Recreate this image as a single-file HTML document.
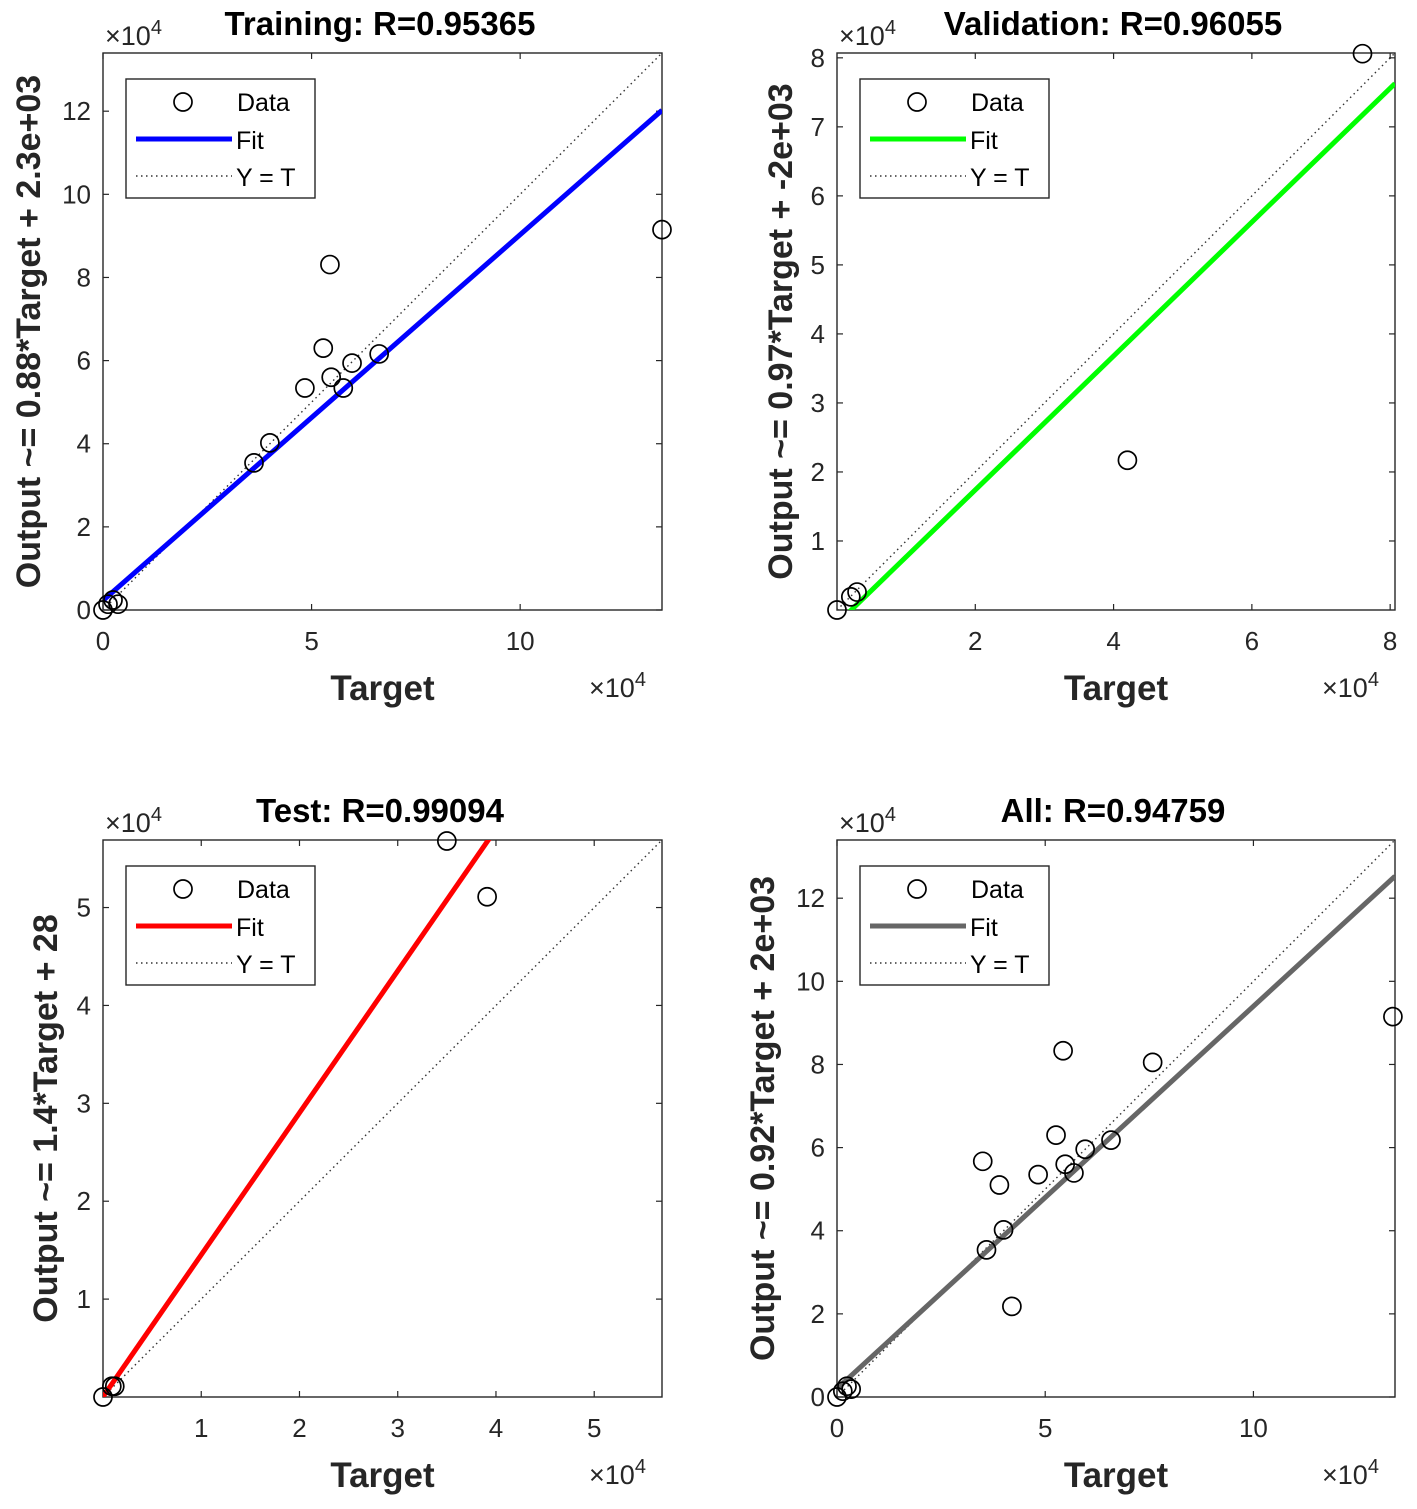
<!DOCTYPE html>
<html><head><meta charset="utf-8"><style>
html,body{margin:0;padding:0;background:#fff;}
svg{display:block;font-family:"Liberation Sans",Arial,sans-serif;}
</style></head><body>
<svg id="fig" width="1417" height="1509" viewBox="0 0 1417 1509"></svg>
<script>
// ---- data (units of 1e4) ----
const trainTargets = [0, 0.12, 0.24, 0.36, 3.62, 4.0, 4.84, 5.28, 5.44, 5.47, 5.76, 5.97, 6.62, 13.4];
const trainOutputs = [0, 0.14, 0.24, 0.14, 3.54, 4.02, 5.34, 6.3, 8.31, 5.6, 5.34, 5.94, 6.16, 9.15];
const valTargets = [0, 0.2, 0.29, 4.2, 7.6];
const valOutputs = [0, 0.19, 0.26, 2.17, 8.06];
const testTargets = [0, 0.09, 0.12, 3.5, 3.91];
const testOutputs = [0, 0.11, 0.11, 5.68, 5.11];
const allTargets = [0, 0.14, 0.24, 0.34, 3.59, 4.0, 3.9, 3.5, 4.2, 4.83, 5.26, 5.43, 5.48, 5.69, 5.96, 6.58, 7.58, 13.35];
const allOutputs = [0, 0.14, 0.26, 0.19, 3.54, 4.02, 5.1, 5.67, 2.18, 5.35, 6.3, 8.33, 5.6, 5.39, 5.96, 6.18, 8.05, 9.15];
const fitSlopes = [0.88, 0.97, 1.45, 0.92];
const fitIntercepts = [0.23, -0.2, 0.0028, 0.2];
const titles = ["Training: R=0.95365", "Validation: R=0.96055", "Test: R=0.99094", "All: R=0.94759"];
const yLabels = ["Output ~= 0.88*Target + 2.3e+03", "Output ~= 0.97*Target + -2e+03", "Output ~= 1.4*Target + 28", "Output ~= 0.92*Target + 2e+03"];
const xTicks1 = [0, 5, 10]; const yTicks1 = [0, 2, 4, 6, 8, 10, 12];
const xTicks2 = [2, 4, 6, 8]; const yTicks2 = [1, 2, 3, 4, 5, 6, 7, 8];
const xTicks3 = [1, 2, 3, 4, 5]; const yTicks3 = [1, 2, 3, 4, 5];
const xTicks4 = [0, 5, 10]; const yTicks4 = [0, 2, 4, 6, 8, 10, 12];

const NS = "http://www.w3.org/2000/svg";
const svg = document.getElementById('fig');
function el(tag, attrs, parent, text) {
  const e = document.createElementNS(NS, tag);
  for (const k in attrs) e.setAttribute(k, attrs[k]);
  if (text !== undefined) e.textContent = text;
  (parent || svg).appendChild(e);
  return e;
}

const panels = [
  {x0:103,x1:662,y0:53,y1:610,min:0,max:13.4,T:trainTargets,O:trainOutputs,xt:xTicks1,yt:yTicks1,col:"#0000ff",ylx:28,key:"training"},
  {x0:837,x1:1395,y0:53,y1:610,min:0,max:8.07,T:valTargets,O:valOutputs,xt:xTicks2,yt:yTicks2,col:"#00ff00",ylx:780,key:"validation"},
  {x0:103,x1:662,y0:840,y1:1397,min:0,max:5.69,T:testTargets,O:testOutputs,xt:xTicks3,yt:yTicks3,col:"#ff0000",ylx:45,key:"test"},
  {x0:837,x1:1395,y0:840,y1:1397,min:0,max:13.4,T:allTargets,O:allOutputs,xt:xTicks4,yt:yTicks4,col:"#666666",ylx:762,key:"all"}
];

panels.forEach((p, i) => {
  const g = el('g', {});
  
  
  const sx = v => p.x0 + (v - p.min) / (p.max - p.min) * (p.x1 - p.x0);
  const sy = v => p.y1 - (v - p.min) / (p.max - p.min) * (p.y1 - p.y0);
  const cid = 'clip' + i;
  const cp = el('clipPath', {id: cid}, g);
  el('rect', {x:p.x0, y:p.y0, width:p.x1-p.x0, height:p.y1-p.y0}, cp);
  const box = el('rect', {x:p.x0, y:p.y0, width:p.x1-p.x0, height:p.y1-p.y0, fill:'#fff', stroke:'#262626', 'stroke-width':1.4}, g);
  
  
  p.xt.forEach(t => {
    const x = sx(t);
    el('line', {x1:x, x2:x, y1:p.y1, y2:p.y1-6, stroke:'#262626', 'stroke-width':1.2}, g);
    el('line', {x1:x, x2:x, y1:p.y0, y2:p.y0+6, stroke:'#262626', 'stroke-width':1.2}, g);
    const tl = el('text', {x:x, y:p.y1+40, 'font-size':26, 'text-anchor':'middle', fill:'#262626'}, g, String(t));
    
    
  });
  p.yt.forEach(t => {
    const y = sy(t);
    el('line', {x1:p.x0, x2:p.x0+6, y1:y, y2:y, stroke:'#262626', 'stroke-width':1.2}, g);
    el('line', {x1:p.x1, x2:p.x1-6, y1:y, y2:y, stroke:'#262626', 'stroke-width':1.2}, g);
    const tl = el('text', {x:p.x0-12, y:y+9, 'font-size':26, 'text-anchor':'end', fill:'#262626'}, g, String(t));
    
    
  });
  const cg = el('g', {'clip-path':'url(#' + cid + ')'}, g);
  const yt = el('line', {x1:sx(p.min), y1:sy(p.min), x2:sx(p.max), y2:sy(p.max), stroke:'#333', 'stroke-width':1.4, 'stroke-dasharray':'1.5 3.5'}, cg);
  
  
  const a = fitSlopes[i], b = fitIntercepts[i];
  const fl = el('line', {x1:sx(p.min), y1:sy(a*p.min+b), x2:sx(p.max), y2:sy(a*p.max+b), stroke:p.col, 'stroke-width':5}, cg);
  
  
  p.T.forEach((t, k) => {
    const c = el('circle', {cx:sx(t), cy:sy(p.O[k]), r:9, fill:'none', stroke:'#000', 'stroke-width':1.7}, g);
    
    
  });
  const tt = el('text', {x:(i%2===0)?380:1113, y:p.y0-18, 'font-size':33, 'font-weight':'bold', 'text-anchor':'middle', fill:'#000'}, g, titles[i]);
  
  
  const xl = el('text', {x:(p.x0+p.x1)/2, y:p.y1+90, 'font-size':35, 'font-weight':'bold', 'text-anchor':'middle', fill:'#262626'}, g, 'Target');
  
  
  const yc = (p.y0+p.y1)/2;
  const yl = el('text', {x:p.ylx, y:yc, 'font-size':34, 'font-weight':'bold', 'text-anchor':'middle', fill:'#262626', transform:'rotate(-90 '+(p.ylx)+' '+yc+')', dy:'0.35em'}, g, yLabels[i]);
  
  
  const e1 = el('text', {x:p.x0+2, y:p.y0-8, 'font-size':27, fill:'#262626'}, g);
  
  
  el('tspan', {}, e1, '×10');
  el('tspan', {dy:-11, 'font-size':20}, e1, '4');
  const e2 = el('text', {x:p.x1-73, y:p.y1+87, 'font-size':27, fill:'#262626'}, g);
  
  
  el('tspan', {}, e2, '×10');
  el('tspan', {dy:-11, 'font-size':20}, e2, '4');
  const lx = p.x0 + 23, ly = p.y0 + 26;
  const lg = el('g', {}, g);
  
  
  el('rect', {x:lx, y:ly, width:189, height:119, fill:'#fff', stroke:'#262626', 'stroke-width':1.4}, lg);
  el('circle', {cx:lx+57, cy:ly+23, r:9, fill:'none', stroke:'#000', 'stroke-width':1.7}, lg);
  el('text', {x:lx+111, y:ly+32, 'font-size':25, fill:'#000'}, lg, 'Data');
  el('line', {x1:lx+10, x2:lx+106, y1:ly+60, y2:ly+60, stroke:p.col, 'stroke-width':5}, lg);
  el('text', {x:lx+110, y:ly+70, 'font-size':25, fill:'#000'}, lg, 'Fit');
  el('line', {x1:lx+10, x2:lx+106, y1:ly+97, y2:ly+97, stroke:'#333', 'stroke-width':1.4, 'stroke-dasharray':'1.5 3.5'}, lg);
  el('text', {x:lx+110, y:ly+107, 'font-size':25, fill:'#000'}, lg, 'Y = T');
});
</script>
</body></html>
